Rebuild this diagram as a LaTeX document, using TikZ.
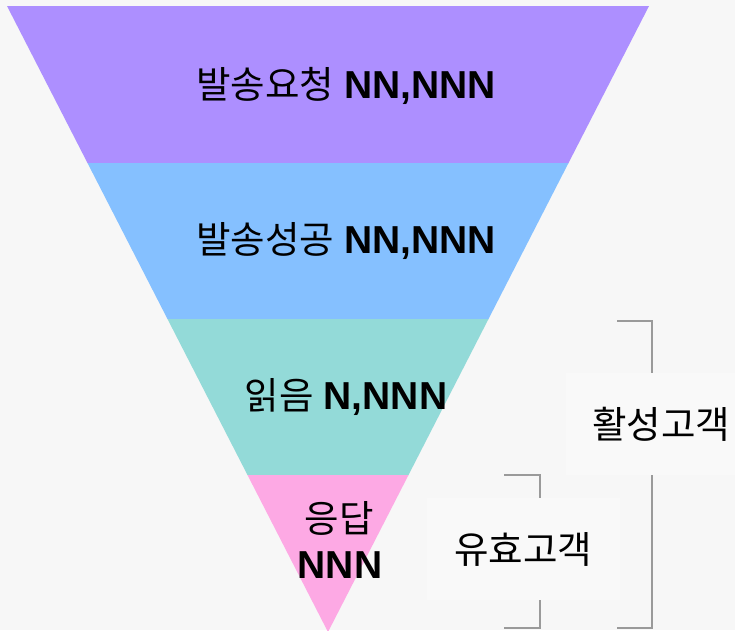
\documentclass[tikz,border=0pt]{standalone}
\usepackage{fontspec}
\setmainfont{Noto Sans CJK KR}
\newfontfamily\numfont{Liberation Sans}
\usepackage{xcolor}
\definecolor{bgGray}{HTML}{F7F7F7}
\definecolor{boxGray}{HTML}{F9F9F9}
\definecolor{bracketGray}{HTML}{9A9A9A}
\definecolor{bandPurple}{HTML}{AD8FFF}
\definecolor{bandBlue}{HTML}{85C0FF}
\definecolor{bandTeal}{HTML}{93DAD8}
\definecolor{bandPink}{HTML}{FDA9E4}
\newcommand{\nums}[1]{{\numfont\bfseries\fontsize{39}{42}\selectfont #1}}

\begin{document}
\begin{tikzpicture}[x=1pt,y=-1pt,band label/.style={font=\fontsize{37.5}{40}\selectfont,inner sep=0pt},bracket line/.style={draw=bracketGray,line width=2pt},side box/.style={fill=boxGray,inner sep=0pt,font=\fontsize{37.5}{40}\selectfont}]
            \fill[bgGray] (0,0) rectangle (735,630);
            \useasboundingbox (0,0) rectangle (735,630);

            % funnel bands
            \fill[bandPurple] (7,6) -- (649,6) -- (568.5,163) -- (87.5,163) -- cycle;
            \fill[bandBlue] (87.5,163) -- (568.5,163) -- (488.5,319) -- (167.5,319) -- cycle;
            \fill[bandTeal] (167.5,319) -- (488.5,319) -- (408.5,475) -- (247.5,475) -- cycle;
            \fill[bandPink] (247.5,475) -- (408.5,475) -- (328,632) -- cycle;

            % brackets
            \coordinate (actTL) at (617,321);
            \coordinate (actTR) at (652,321);
            \coordinate (actBR) at (652,628);
            \coordinate (actBL) at (617,628);
            \coordinate (effTL) at (504,475);
            \coordinate (effTR) at (540,475);
            \coordinate (effBR) at (540,628);
            \coordinate (effBL) at (504,628);
            \draw[bracket line] (actTL) -- (actTR) -- (actBR) -- (actBL);
            \draw[bracket line] (effTL) -- (effTR) -- (effBR) -- (effBL);

            \node[side box, minimum width=190, minimum height=102] (active) at (661,424) {활성고객};
            \node[side box, minimum width=193, minimum height=102] (effective) at (523,549) {유효고객};

            % band labels
            \node[band label] (sent) at (346,86) {발송요청\hspace{10pt}\nums{NN,NNN}};
            \node[band label] (delivered) at (346,241) {발송성공\hspace{10pt}\nums{NN,NNN}};
            \node[band label] (read) at (346,397) {읽음\hspace{10pt}\nums{N,NNN}};
            \node[band label] (reply) at (339,518) {응답};
            \node[band label] (replyNum) at (340,565) {\nums{NNN}};
        \end{tikzpicture}
\end{document}
